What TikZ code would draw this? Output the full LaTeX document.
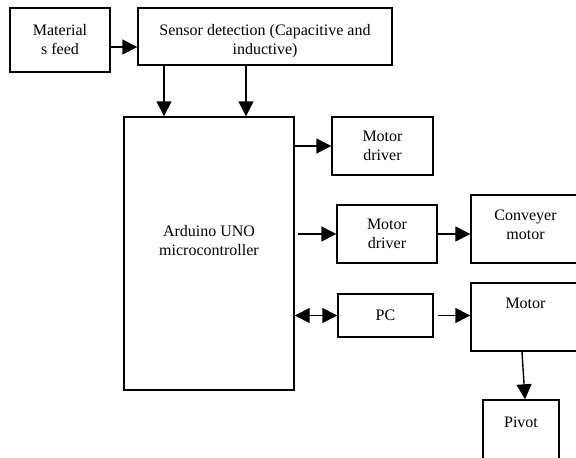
\documentclass[tikz,border=0pt]{standalone}
\usepackage{fontspec}
\setmainfont{Liberation Serif}
\usetikzlibrary{arrows.meta}
\tikzset{
  block/.style={draw, line width=1.4pt, align=center, inner sep=2pt, font=\fontsize{16}{19}\selectfont},
  >={Triangle[length=15pt,width=15pt]}
}
\begin{document}
\begin{tikzpicture}[x=1pt, y=-1pt, line width=1.4pt]
\useasboundingbox (0,0) rectangle (576,458);
\clip (0,0) rectangle (576,458);
\node[block, minimum width=100pt, minimum height=64pt] (feed) at (60,40) {Material\\s feed};
\node[block, minimum width=254pt, minimum height=57pt, text height=40pt] (sensor) at (265,36.5) {Sensor detection (Capacitive and\\inductive)};
\node[block, minimum width=170pt, minimum height=273pt, text depth=26pt] (arduino) at (209,253.5) {Arduino UNO\\microcontroller};
\node[block, minimum width=101pt, minimum height=58pt] (drvone) at (382.5,146) {Motor\\driver};
\node[block, minimum width=100pt, minimum height=58pt] (drvtwo) at (387,234) {Motor\\driver};
\node[block, minimum width=109pt, minimum height=68pt, text depth=8pt] (conv) at (525.5,229) {Conveyer\\motor};
\node[block, minimum width=95pt, minimum height=43pt] (pc) at (385.5,315.5) {PC};
\node[block, minimum width=109pt, minimum height=68pt,
  label={[font=\fontsize{16}{19}\selectfont, anchor=north, yshift=-12pt]north:Motor}] (motor) at (525.5,317) {};
\node[block, minimum width=76pt, minimum height=70pt,
  label={[font=\fontsize{16}{19}\selectfont, anchor=north, yshift=-14pt]north:Pivot}] (pivot) at (521,435) {};
\draw[->] (feed.east |- 0,47) -- (sensor.west |- 0,47);
\draw[->] ([xshift=-101pt]sensor.south) -- ([xshift=-45pt]arduino.north);
\draw[->] ([xshift=-19pt]sensor.south) -- ([xshift=37pt]arduino.north);
\draw[->] (drvone.west -| arduino.east) -- (drvone.west);
\draw[->] ([xshift=3pt]drvtwo.west -| arduino.east) -- (drvtwo.west);
\draw[->] (drvtwo.east) -- (drvtwo.east -| conv.west);
\draw[<->] (pc.west -| arduino.east) -- (pc.west);
\draw[->] ([xshift=4pt]pc.east) -- (pc.east -| motor.west);
\draw[->] ([xshift=-3.5pt]motor.south) -- ([xshift=4pt]pivot.north);
\end{tikzpicture}
\end{document}
